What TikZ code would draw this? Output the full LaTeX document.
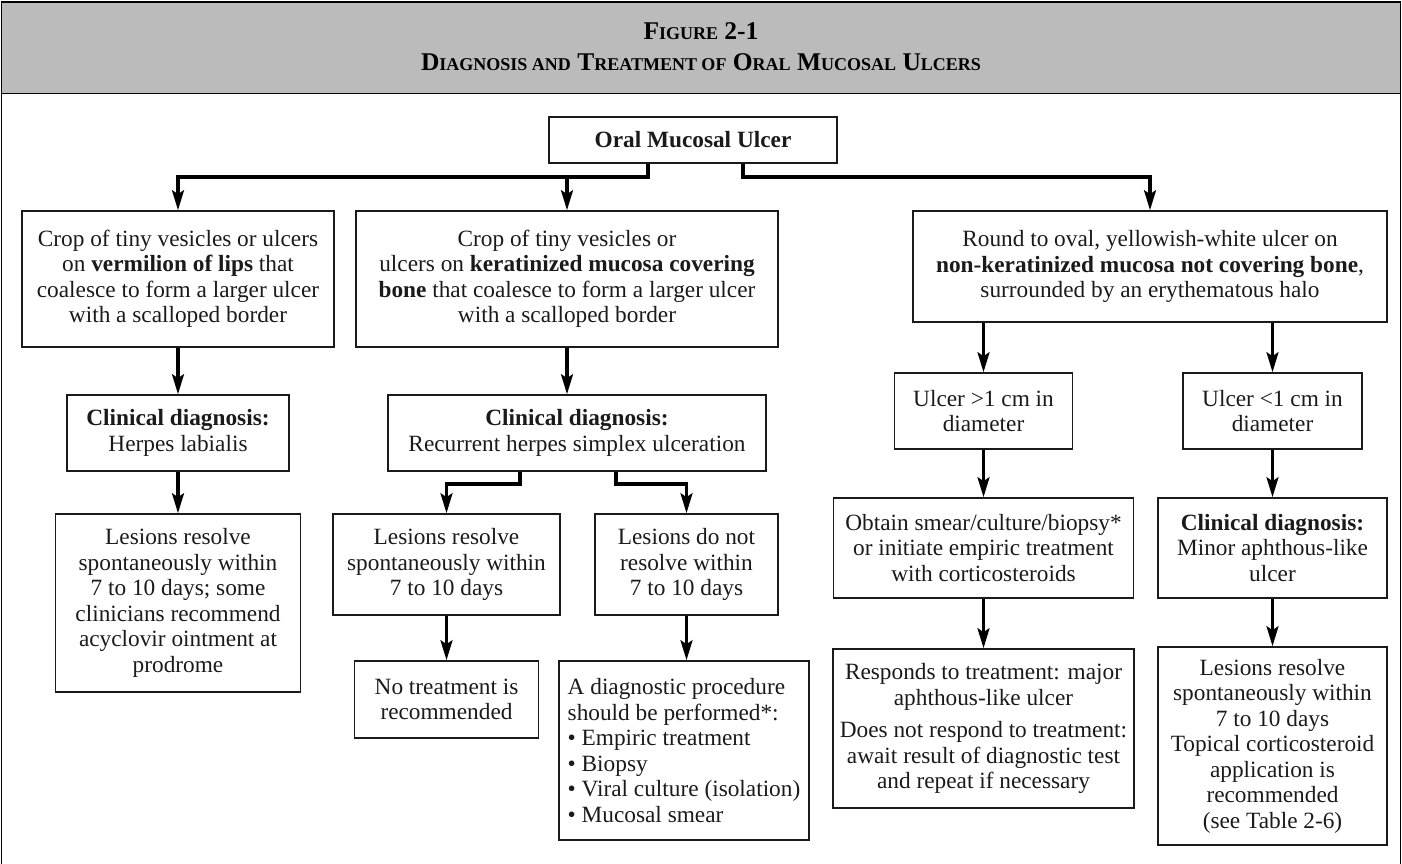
\documentclass[tikz,border=0pt]{standalone}
\usepackage{fontspec}
\setmainfont{Liberation Serif}
\usetikzlibrary{arrows.meta,calc}
\definecolor{band}{HTML}{BBBBBB}
\definecolor{ink}{HTML}{1A1A1A}
\newcommand{\mysc}[1]{{\fontsize{18}{18}\selectfont #1}}
\begin{document}
\begin{tikzpicture}[x=1pt,y=-1pt,
  box/.style={draw=ink, line width=1.6pt, align=center, inner sep=0pt, text=ink,
              font=\fontsize{23.3}{25.5}\selectfont},
  arr/.style={draw=black, line width=3.1pt, -{Stealth[length=20pt,width=12pt,inset=4pt]}},
  titletext/.style={anchor=base, text=black, font=\fontsize{25.5}{25.5}\selectfont\bfseries}]
\useasboundingbox (0,0) rectangle (1402,864);
% frame and title band
\draw[line width=1.6pt, fill=band] (1.5,2) rectangle (1400.5,93.5);
\draw[line width=1.6pt] (1.5,93.5) -- (1.5,864) (1400.5,93.5) -- (1400.5,864);
\node[titletext] (t1) at (701,40) {F\mysc{IGURE} 2-1};
\node[titletext] (t2) at (701,71) {D\mysc{IAGNOSIS AND} T\mysc{REATMENT OF} O\mysc{RAL} M\mysc{UCOSAL} U\mysc{LCERS}};

% nodes
\node[box, minimum width=288pt, minimum height=46pt] (root) at (693,140) {\textbf{Oral Mucosal Ulcer}};

\node[box, minimum width=312pt, minimum height=136pt] (A1) at (178,279)
  {Crop of tiny vesicles or ulcers\\ on \textbf{vermilion of lips} that\\ coalesce to form a larger ulcer\\ with a scalloped border};
\node[box, minimum width=422pt, minimum height=136pt] (B1) at (567,279)
  {Crop of tiny vesicles or\\ ulcers on \textbf{keratinized mucosa covering}\\ \textbf{bone} that coalesce to form a larger ulcer\\ with a scalloped border};
\node[box, minimum width=474pt, minimum height=111pt] (C1) at (1150,266.5)
  {Round to oval, yellowish-white ulcer on\\ \textbf{non-keratinized mucosa not covering bone},\\ surrounded by an erythematous halo};

\node[box, minimum width=222pt, minimum height=76pt] (A2) at (178,433)
  {\textbf{Clinical diagnosis:}\\ Herpes labialis};
\node[box, minimum width=378pt, minimum height=76pt] (B2) at (577,433)
  {\textbf{Clinical diagnosis:}\\ Recurrent herpes simplex ulceration};
\node[box, minimum width=178pt, minimum height=76pt] (C2a) at (983.5,411)
  {Ulcer >1 cm in\\ diameter};
\node[box, minimum width=179pt, minimum height=76pt] (C2b) at (1272.5,411)
  {Ulcer <1 cm in\\ diameter};

\node[box, minimum width=245pt, minimum height=178pt] (A3) at (178,603)
  {Lesions resolve\\ spontaneously within\\ 7 to 10 days; some\\ clinicians recommend\\ acyclovir ointment at\\ prodrome};
\node[box, minimum width=227pt, minimum height=101pt] (B3a) at (446.5,564.5)
  {Lesions resolve\\ spontaneously within\\ 7 to 10 days};
\node[box, minimum width=183pt, minimum height=101pt] (B3b) at (686.5,564.5)
  {Lesions do not\\ resolve within\\ 7 to 10 days};
\node[box, minimum width=300pt, minimum height=100pt] (C3a) at (983.5,548)
  {Obtain smear/culture/biopsy*\\ or initiate empiric treatment\\ with corticosteroids};
\node[box, minimum width=229pt, minimum height=100pt] (C3b) at (1272.5,548)
  {\textbf{Clinical diagnosis:}\\ Minor aphthous-like\\ ulcer};

\node[box, minimum width=184pt, minimum height=77pt] (B4a) at (446.5,699.5)
  {No treatment is\\ recommended};
\node[box, align=left, minimum width=250pt, minimum height=179pt] (B4b) at (684,750.5)
  {A diagnostic procedure\\ should be performed*:\\ \textbullet\ Empiric treatment\\ \textbullet\ Biopsy\\ \textbullet\ Viral culture (isolation)\\ \textbullet\ Mucosal smear};
\node[box, minimum width=301pt, minimum height=159pt] (C4a) at (983.5,728.5)
  {Responds to treatment: major\\ aphthous-like ulcer\\[7pt] Does not respond to treatment:\\ await result of diagnostic test\\ and repeat if necessary};
\node[box, minimum width=229pt, minimum height=198pt] (C4b) at (1272.5,746)
  {Lesions resolve\\ spontaneously within\\ 7 to 10 days\\ Topical corticosteroid\\ application is\\ recommended\\ (see Table 2-6)};

% connectors
\coordinate (rL) at (648,177);
\coordinate (rR) at (743,177);
\draw[arr] (root.south -| rL) -- (rL) -| (A1.north);
\draw[arr] (B1.north |- rL) -- (B1.north);
\draw[arr] (root.south -| rR) -- (rR) -| (C1.north);

\draw[arr] (A1.south) -- (A2.north);
\draw[arr] (A2.south) -- (A3.north);
\draw[arr] (B1.south) -- (B1.south |- B2.north);
\coordinate (bL) at (520,484);
\coordinate (bR) at (616,484);
\draw[arr] (B2.south -| bL) -- (bL) -| (B3a.north);
\draw[arr] (B2.south -| bR) -- (bR) -| (B3b.north);
\draw[arr] (B3a.south) -- (B4a.north);
\draw[arr] (B3b.south) -- (B3b.south |- B4b.north);

\draw[arr] (C2a.north |- C1.south) -- (C2a.north);
\draw[arr] (C2b.north |- C1.south) -- (C2b.north);
\draw[arr] (C2a.south) -- (C3a.north);
\draw[arr] (C2b.south) -- (C3b.north);
\draw[arr] (C3a.south) -- (C4a.north);
\draw[arr] (C3b.south) -- (C4b.north);
\end{tikzpicture}
\end{document}
